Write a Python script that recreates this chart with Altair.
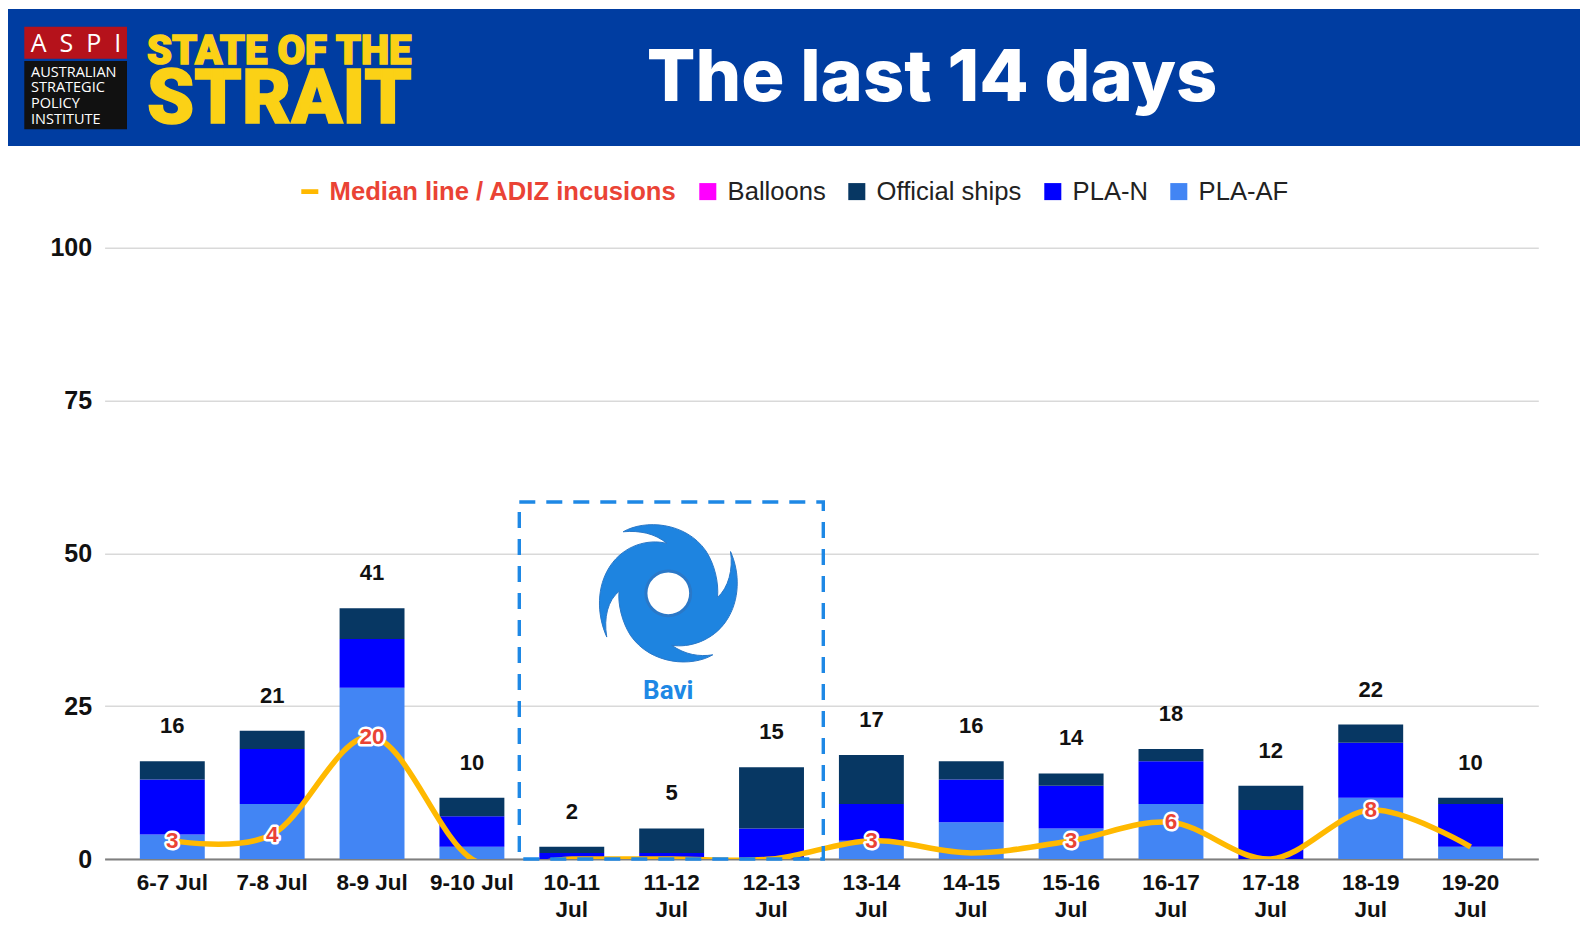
import altair as alt
import pandas as pd

dates = ["6-7 Jul", "7-8 Jul", "8-9 Jul", "9-10 Jul", "10-11 Jul", "11-12 Jul", "12-13 Jul",
         "13-14 Jul", "14-15 Jul", "15-16 Jul", "16-17 Jul", "17-18 Jul", "18-19 Jul", "19-20 Jul"]
pla_af = [4, 9, 28, 2, 0, 0, 0, 3, 6, 5, 9, 0, 10, 2]
pla_n = [9, 9, 8, 5, 1, 1, 5, 6, 7, 7, 7, 8, 9, 7]
ships = [3, 3, 5, 3, 1, 4, 10, 8, 3, 2, 2, 4, 3, 1]
balloons = [0] * 14
totals = [16, 21, 41, 10, 2, 5, 15, 17, 16, 14, 18, 12, 22, 10]
median = [3, 4, 20, 0, 0, 0, 0, 3, 1, 3, 6, 0, 8, 2]
median_labels = ["3", "4", "20", "", "", "", "", "3", "", "3", "6", "", "8", ""]

MEDIAN = "Median line / ADIZ incusions"
legend_names = [MEDIAN, "Balloons", "Official ships", "PLA-N", "PLA-AF"]
legend_colors = ["#FFB900", "#FF00FF", "#073763", "#0000FF", "#4285F4"]
FONT = "Liberation Sans"

L, T, R, B = 104.6, 247.7, 1538.3, 859.0
W, H = R - L, B - T
def px(v): return v - L
def py(v): return v - T

rows = []
for i, d in enumerate(dates):
    for order, (name, vals) in enumerate([("PLA-AF", pla_af), ("PLA-N", pla_n),
                                          ("Official ships", ships), ("Balloons", balloons)]):
        rows.append({"date": d, "series": name, "value": vals[i], "order": order})
bars_df = pd.DataFrame(rows)
points_df = pd.DataFrame({"date": dates, "total": totals, "median": median, "label": median_labels})

x_enc = alt.X("date:N", sort=dates, title=None,
              scale=alt.Scale(paddingInner=0.35, paddingOuter=0.353),
              axis=alt.Axis(labelExpr="length(datum.label) > 8 ? split(datum.label, ' ') : datum.label",
                            labelAngle=0, labelFont=FONT, labelFontSize=22.5, labelFontWeight="bold",
                            labelColor="#111111", labelPadding=12, labelLineHeight=27, ticks=False,
                            domainColor="#7f7f7f", domainWidth=2, grid=False, labelOverlap=False,
                            labelBaseline="top"))
y_enc = alt.Y("value:Q", stack="zero", title=None,
              scale=alt.Scale(domain=[0, 100], nice=False),
              axis=alt.Axis(values=[0, 25, 50, 75, 100], labelFont=FONT, labelFontSize=25,
                            labelFontWeight="bold", labelColor="#111111", labelPadding=13,
                            ticks=False, domain=False, gridColor="#d9d9d9", gridWidth=1.5))

bars = alt.Chart(bars_df).mark_bar().encode(
    x=x_enc, y=y_enc,
    color=alt.Color("series:N", scale=alt.Scale(domain=legend_names, range=legend_colors),
        legend=alt.Legend(
            title=None, orient="none", legendX=px(297), legendY=py(178.5), direction="horizontal",
            columns=5, columnPadding=18, labelFont=FONT, labelFontSize=25.6, labelLimit=500,
            symbolSize=290, symbolStrokeWidth=0, labelOffset=7,
            symbolType={"expr": "datum.value == '%s' ? 'M-1,-0.28H1V0.28H-1Z' : 'square'" % MEDIAN},
            labelColor={"expr": "datum.value == '%s' ? '#EA4335' : '#222222'" % MEDIAN},
            labelFontWeight={"expr": "datum.value == '%s' ? 'bold' : 'normal'" % MEDIAN},
        )),
    order=alt.Order("order:Q"),
)

line = alt.Chart(points_df).mark_line(color="#FFB900", strokeWidth=5.5, interpolate="cardinal",
                                      clip=True).encode(
    x=alt.X("date:N", sort=dates), y=alt.Y("median:Q"))

total_text = alt.Chart(points_df).mark_text(font=FONT, fontSize=22, fontWeight="bold", color="#111111",
                                            dy=-35, baseline="middle").encode(
    x=alt.X("date:N", sort=dates), y=alt.Y("total:Q"), text="total:Q")

lab_df = points_df[points_df["label"] != ""]
halo = alt.Chart(lab_df).mark_text(font=FONT, fontSize=22.5, fontWeight="bold", color="#EA4335",
                                   stroke="white", strokeWidth=5, strokeJoin="round", baseline="middle").encode(
    x=alt.X("date:N", sort=dates), y=alt.Y("median:Q"), text="label:N")
lab = alt.Chart(lab_df).mark_text(font=FONT, fontSize=22.5, fontWeight="bold", color="#EA4335",
                                  baseline="middle").encode(
    x=alt.X("date:N", sort=dates), y=alt.Y("median:Q"), text="label:N")

one = alt.Data(values=[{"a": 1}])

def rect(x0, y0, x1, y1, **kw):
    return alt.Chart(one).mark_rect(**kw).encode(
        x=alt.value(px(x0)), x2=alt.value(px(x1)), y=alt.value(py(y0)), y2=alt.value(py(y1)))

def text(s, x, y, size, color, font=FONT, weight="normal", align="left", **kw):
    return alt.Chart(alt.Data(values=[{"t": s}])).mark_text(
        font=font, fontSize=size, fontWeight=weight, color=color, align=align,
        baseline="alphabetic", **kw).encode(x=alt.value(px(x)), y=alt.value(py(y)), text="t:N")

box = rect(519.3, 502, 823.3, 859, fillOpacity=0, stroke="#1E88E5", strokeWidth=3.4, strokeDash=[16, 11])

CYCLONE = ("M-0.66,-0.90 C-0.35,-1.08 0.25,-1.05 0.55,-0.62 C0.68,-0.42 0.74,-0.15 0.72,0.06 "
           "C0.88,-0.08 0.95,-0.35 0.91,-0.61 C1.05,-0.30 1.05,0.10 0.85,0.40 C0.65,0.70 0.30,0.80 0.05,0.76 "
           "C0.25,0.90 0.45,0.93 0.65,0.90 C0.35,1.08 -0.25,1.05 -0.55,0.62 C-0.68,0.42 -0.74,0.15 -0.72,-0.03 "
           "C-0.88,0.10 -0.95,0.35 -0.90,0.64 C-1.05,0.30 -1.05,-0.10 -0.85,-0.40 C-0.65,-0.70 -0.30,-0.80 -0.02,-0.73 "
           "C-0.20,-0.88 -0.42,-0.92 -0.66,-0.90 Z "
           "M-0.33,0 C-0.33,0.18 -0.18,0.33 0,0.33 C0.18,0.33 0.33,0.18 0.33,0 "
           "C0.33,-0.18 0.18,-0.33 0,-0.33 C-0.18,-0.33 -0.33,-0.18 -0.33,0 Z")
icon = alt.Chart(one).mark_point(shape=CYCLONE, filled=True, fill="#1E84E0", stroke="#2A78C8",
                                 strokeWidth=1, opacity=1, size=18700).encode(
    x=alt.value(px(668.3)), y=alt.value(py(593.3)))
eye = alt.Chart(one).mark_point(shape="circle", filled=False, stroke="#2A78C8", strokeWidth=3,
                                opacity=1, size=2000).encode(
    x=alt.value(px(668.3)), y=alt.value(py(593.3)))
bavi = text("Bavi", 668.3, 699, 26, "#1E88E5", font="Roboto", weight="bold", align="center")

banner = rect(8, 9, 1580, 146, fill="#003DA1")
red = rect(24.3, 26.7, 127, 58.7, fill="#B5121B")
black = rect(24.3, 61, 127, 129.3, fill="#111111")
aspi = text("A\u00a0\u00a0S\u00a0\u00a0P\u00a0\u00a0I", 76, 52, 25, "white", font="Open Sans", align="center")
logo_lines = [text(s, 31, y, 14.5, "white", font="Open Sans")
              for s, y in [("AUSTRALIAN", 77), ("STRATEGIC", 92), ("POLICY", 108), ("INSTITUTE", 124)]]
state = text("STATE OF THE", 147, 64, 40, "#FBD116", font="Roboto", weight=900,
             stroke="#FBD116", strokeWidth=1.5)
strait = text("STRAIT", 147, 123, 75.5, "#FBD116", font="Roboto", weight=900,
              stroke="#FBD116", strokeWidth=1.5)
title = text("The last 14 days", 932, 101, 72, "white", font="Inter", weight=800, align="center")

chart = alt.layer(
    bars, line, total_text, halo, lab, box, icon, eye, bavi,
    banner, red, black, aspi, *logo_lines, state, strait, title,
).properties(
    width=W, height=H,
    padding={"left": L - 8, "top": T - 8, "right": 1581 - R, "bottom": 70},
    autosize=alt.AutoSizeParams(type="none"),
    background="white",
).configure_view(stroke=None).configure_axis(grid=True)

chart.save("out.html", embed_options={"renderer": "svg", "actions": False})
